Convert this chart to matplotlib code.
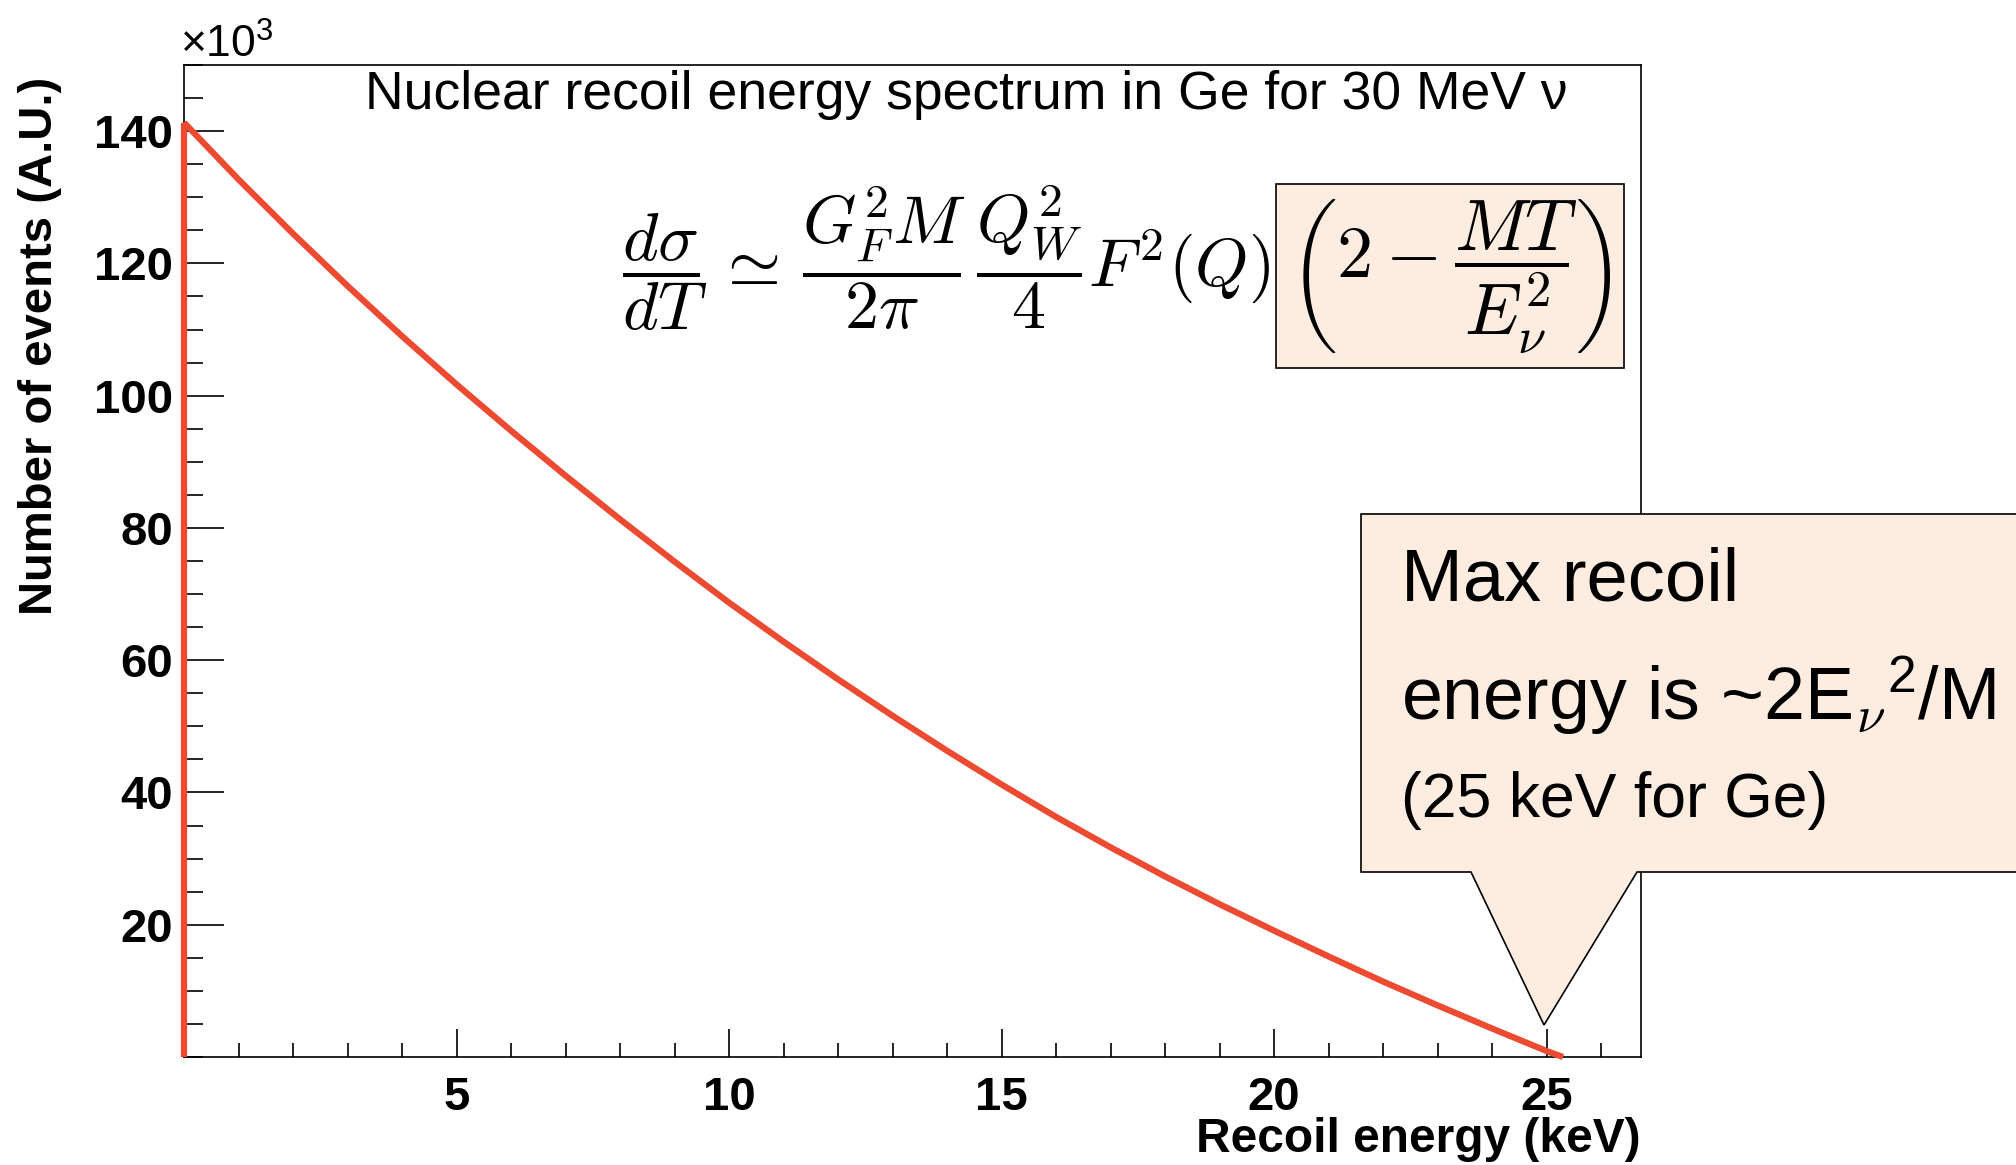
import matplotlib.pyplot as plt
from matplotlib.patches import Polygon
from matplotlib.ticker import MultipleLocator

# recoil spectrum (x in keV, y in units of 10^3 events)
energy = [0, 1, 2, 3, 4, 5, 6, 7, 8, 9, 10, 11, 12, 13, 14, 15,
          16, 17, 18, 19, 20, 21, 22, 23, 24, 25, 25.3]
counts = [141.3, 132.7, 124.5, 116.6, 109.0, 101.7, 94.7, 87.9, 81.3, 74.9,
          68.7, 62.8, 57.1, 51.6, 46.3, 41.2, 36.3, 31.7, 27.3, 23.1,
          19.1, 15.2, 11.4, 7.8, 4.3, 0.9, 0.0]

title = "Nuclear recoil energy spectrum in Ge for 30 MeV ν"
xlabel = "Recoil energy (keV)"
ylabel = "Number of events (A.U.)"

RED = "#EC4A31"
BEIGE = "#FDEDE1"

plt.rcParams["font.family"] = ["Liberation Sans", "DejaVu Sans"]
plt.rcParams["mathtext.fontset"] = "cm"

W, H = 2016, 1165
fig = plt.figure(figsize=(W / 100, H / 100), dpi=100)
ax = fig.add_axes([184 / W, 1 - 1057 / H, (1641 - 184) / W, (1057 - 65) / H])

ax.plot(energy, counts, color=RED, lw=4.5, solid_capstyle="butt", zorder=3,
        clip_on=False)
ax.vlines(energy[0], 0, counts[0], color=RED, lw=4.5, zorder=3, clip_on=False)

ax.set_xlim(0, 26.73)
ax.set_ylim(0, 150)
ax.set_xticks([5, 10, 15, 20, 25])
ax.xaxis.set_minor_locator(MultipleLocator(1))
ax.set_yticks([20, 40, 60, 80, 100, 120, 140])
ax.yaxis.set_minor_locator(MultipleLocator(5))
ax.tick_params(axis="both", which="both", direction="in", top=False, right=False,
               labelsize=34)
ax.tick_params(axis="y", which="major", length=29, width=1.2, pad=8)
ax.tick_params(axis="y", which="minor", length=14, width=1.2)
ax.tick_params(axis="x", which="major", length=20, width=1.2, pad=14)
ax.tick_params(axis="x", which="minor", length=10, width=1.2)
for lab in ax.get_xticklabels() + ax.get_yticklabels():
    lab.set_fontweight("bold")
for sp in ax.spines.values():
    sp.set_linewidth(1.2)

ax.set_xlabel(xlabel, fontsize=34.5, fontweight="bold", ha="right", va="center")
ax.xaxis.set_label_coords(1.0, -0.083)
ax.set_ylabel(ylabel, fontsize=34, fontweight="bold", ha="center", va="top")
ax.yaxis.label.set_rotation_mode("default")
ax.yaxis.set_label_coords(-0.099, 0.988)

ax.text(0.537, 0.97, title, transform=ax.transAxes, ha="center", va="center",
        fontsize=38.5)
fig.text(180 / W, 1 - 45 / H, "×10$\\mathregular{^{3}}$", ha="left", va="center",
         fontsize=32)

# cross-section formula, last factor boxed
fig.text(1270 / W, 1 - 258 / H,
         r"$\dfrac{d\sigma}{dT}\,\simeq\,\dfrac{G_F^2M}{2\pi}\,\dfrac{Q_W^2}{4}F^2(Q)$",
         ha="right", va="center", fontsize=49)
fig.text(1450 / W, 1 - 276 / H, r"$\left(2-\dfrac{MT}{E_\nu^2}\right)$",
         ha="center", va="center", fontsize=52,
         bbox=dict(boxstyle="square,pad=0.18", fc=BEIGE, ec="black", lw=1.2))

# callout pointing at the end point
pts = [(1361, 514), (2030, 514), (2030, 872), (1637, 872), (1544, 1025),
       (1471, 872), (1361, 872)]
fig.add_artist(Polygon([(x / W, 1 - y / H) for x, y in pts], closed=True,
                       transform=fig.transFigure, fc=BEIGE, ec="black", lw=1.2,
                       zorder=5))
fig.text(1401 / W, 1 - 581 / H, "Max recoil", ha="left", va="center",
         fontsize=53.5, zorder=6)
fig.text(1401 / W, 1 - 696 / H,
         "energy is ~2E$_{\\nu}$$\\mathregular{^{2}}$/M",
         ha="left", va="center", fontsize=53, zorder=6)
fig.text(1401 / W, 1 - 800 / H, "(25 keV for Ge)", ha="left", va="center",
         fontsize=45, zorder=6)

fig.savefig("out.png", dpi=100)
